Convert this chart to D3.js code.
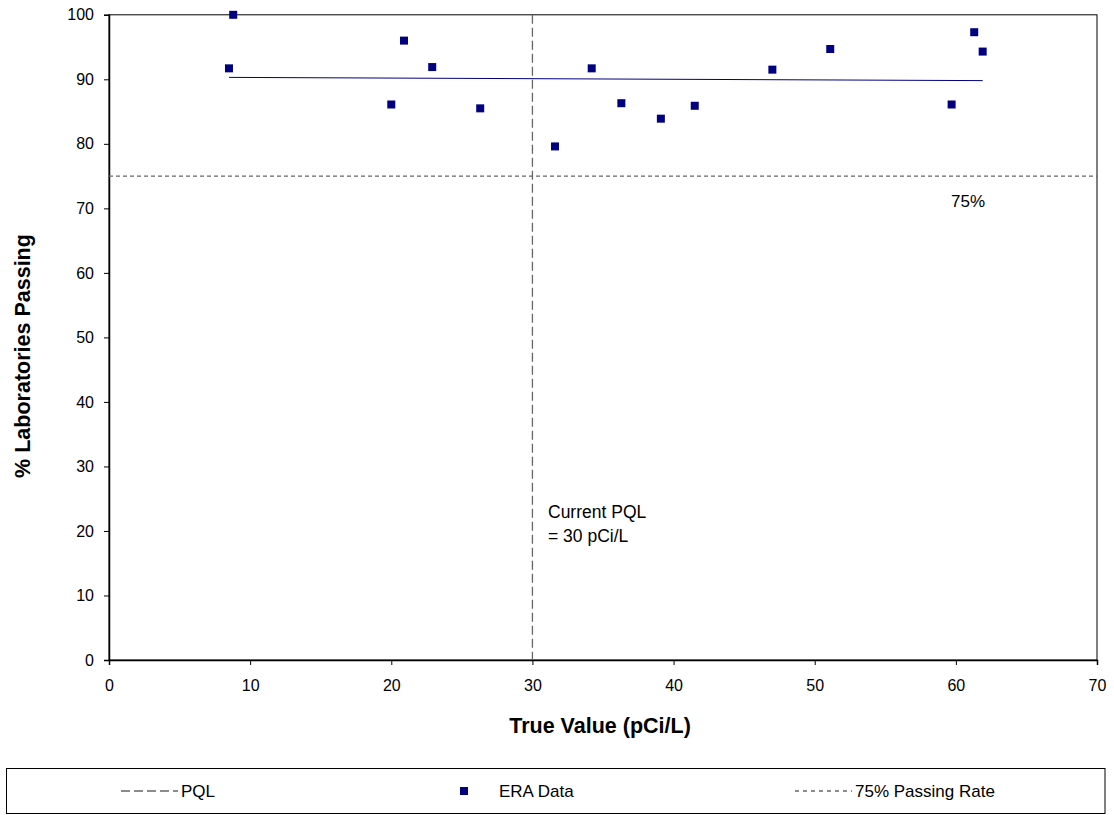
<!DOCTYPE html>
<html><head><meta charset="utf-8">
<script src="https://cdn.jsdelivr.net/npm/d3@7"></script>
<style>body{margin:0;background:#fff;font-family:"Liberation Sans",Arial,sans-serif;}</style>
</head><body>
<svg id="c" width="1114" height="815"></svg>
<script>
const trueValues = [8.5, 8.8, 20.0, 20.9, 22.9, 26.3, 31.6, 34.2, 36.3, 39.1, 41.5, 47.0, 51.1, 59.7, 61.3, 61.9];
const pctPassing = [91.7, 100, 86.1, 96.0, 91.9, 85.5, 79.6, 91.7, 86.3, 83.9, 85.9, 91.5, 94.7, 86.1, 97.3, 94.3];
const trendX = [8.5, 61.9];
const trendY = [90.3, 89.8];
const pqlValue = 30;
const passRate = 75;
const xTicks = [0, 10, 20, 30, 40, 50, 60, 70];
const yTicks = [0, 10, 20, 30, 40, 50, 60, 70, 80, 90, 100];
const legendLabels = ["PQL", "ERA Data", "75% Passing Rate"];

const svg = d3.select("#c");
const x = d3.scaleLinear().domain([0, 70]).range([109, 1097]);
const y = d3.scaleLinear().domain([0, 100]).range([660, 14.8]);
const font = "'Liberation Sans', Arial, sans-serif";

// plot border
svg.append("rect").attr("x", x(0)).attr("y", y(100)).attr("width", x(70)-x(0)).attr("height", y(0)-y(100))
  .attr("fill", "none").attr("stroke", "#000").attr("stroke-width", 1);

// axes
const xAxis = svg.append("g").attr("transform", `translate(0,${y(0)})`)
  .call(d3.axisBottom(x).tickValues(xTicks).tickSize(5).tickPadding(15).tickFormat(d3.format("d")));
const yAxis = svg.append("g").attr("transform", `translate(${x(0)},0)`)
  .call(d3.axisLeft(y).tickValues(yTicks).tickSize(5).tickPadding(10).tickFormat(d3.format("d")));
[xAxis, yAxis].forEach(g => {
  g.select(".domain").attr("stroke", "#000").attr("stroke-width", 1.5);
  g.selectAll(".tick line").attr("stroke", "#000");
  g.selectAll("text").attr("font-family", font).attr("font-size", 16).attr("fill", "#000");
});

// PQL line
svg.append("line").attr("x1", x(pqlValue)).attr("x2", x(pqlValue)).attr("y1", y(100)).attr("y2", y(0))
  .attr("stroke", "#666").attr("stroke-width", 1.3).attr("stroke-dasharray", "9,4");
// 75% line
svg.append("line").attr("x1", x(0)).attr("x2", x(70)).attr("y1", y(passRate)).attr("y2", y(passRate))
  .attr("stroke", "#666").attr("stroke-width", 1.3).attr("stroke-dasharray", "4,3");

// trend line
svg.append("line").attr("x1", x(trendX[0])).attr("x2", x(trendX[1])).attr("y1", y(trendY[0])).attr("y2", y(trendY[1]))
  .attr("stroke", "#000080").attr("stroke-width", 1);

// points
svg.append("g").selectAll("rect").data(trueValues.map((v, i) => [v, pctPassing[i]])).join("rect")
  .attr("x", d => x(d[0]) - 4).attr("y", d => y(d[1]) - 4).attr("width", 8).attr("height", 8)
  .attr("fill", "#000080");

// annotations
svg.append("text").attr("x", 548).attr("y", 518).attr("font-family", font).attr("font-size", 17.5).text("Current PQL");
svg.append("text").attr("x", 548).attr("y", 542).attr("font-family", font).attr("font-size", 17.5).text("= 30 pCi/L");
svg.append("text").attr("x", 951).attr("y", 207).attr("font-family", font).attr("font-size", 17).text("75%");

// axis titles
svg.append("text").attr("x", 600).attr("y", 733).attr("text-anchor", "middle")
  .attr("font-family", font).attr("font-size", 21.5).attr("font-weight", "bold").text("True Value (pCi/L)");
svg.append("text").attr("transform", `translate(30,356) rotate(-90)`).attr("text-anchor", "middle")
  .attr("font-family", font).attr("font-size", 21.5).attr("font-weight", "bold").text("% Laboratories Passing");

// legend
svg.append("rect").attr("x", 6.5).attr("y", 768.5).attr("width", 1098.5).attr("height", 45)
  .attr("fill", "#fff").attr("stroke", "#000").attr("stroke-width", 1);
const ly = 791;
svg.append("line").attr("x1", 121).attr("x2", 178).attr("y1", ly).attr("y2", ly)
  .attr("stroke", "#666").attr("stroke-width", 1.3).attr("stroke-dasharray", "9,4");
svg.append("text").attr("x", 181).attr("y", ly + 6).attr("font-family", font).attr("font-size", 17).text(legendLabels[0]);
svg.append("rect").attr("x", 460).attr("y", ly - 4).attr("width", 8).attr("height", 8).attr("fill", "#000080");
svg.append("text").attr("x", 499).attr("y", ly + 6).attr("font-family", font).attr("font-size", 17).text(legendLabels[1]);
svg.append("line").attr("x1", 795).attr("x2", 852).attr("y1", ly).attr("y2", ly)
  .attr("stroke", "#666").attr("stroke-width", 1.3).attr("stroke-dasharray", "4,4");
svg.append("text").attr("x", 855).attr("y", ly + 6).attr("font-family", font).attr("font-size", 17).text(legendLabels[2]);
</script>
</body></html>
